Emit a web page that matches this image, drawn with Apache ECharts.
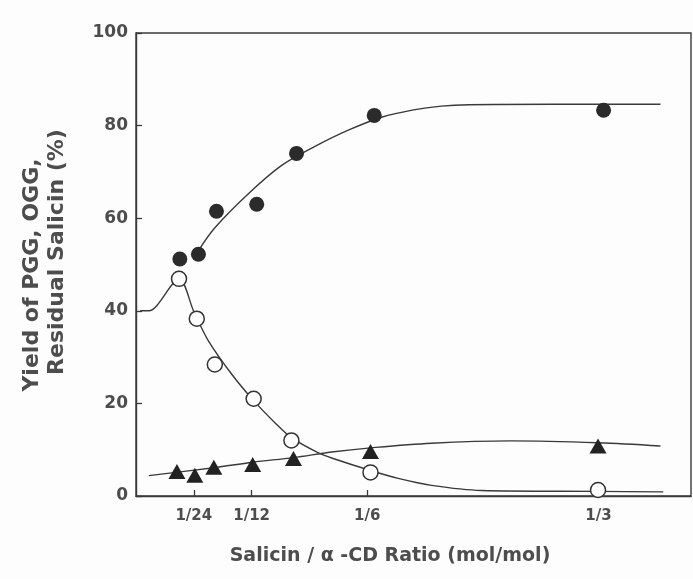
<!DOCTYPE html>
<html>
<head>
<meta charset="utf-8">
<script src="https://cdn.jsdelivr.net/npm/echarts@6/dist/echarts.min.js"></script>
<style>
  html, body { margin: 0; padding: 0; background: #fdfdfd; }
  #chart { width: 693px; height: 579px; }
</style>
</head>
<body>
<div id="chart"></div>
<script>
// ---- data ----
// x tick positions and labels (Salicin / alpha-CD ratio)
const xTickValues = [1/24, 1/12, 1/6, 1/3];
const xTickLabels = ['1/24', '1/12', '1/6', '1/3'];
const yTickValues = [0, 20, 40, 60, 80, 100];

// filled circles
const filledX = [0.0316, 0.045, 0.058, 0.087, 0.1157, 0.1717, 0.337];
const filledY = [51.2, 52.2, 61.5, 63.0, 74.0, 82.2, 83.3];
// open circles
const openX = [0.031, 0.0438, 0.0568, 0.0848, 0.112, 0.169, 0.333];
const openY = [46.9, 38.3, 28.4, 21.0, 12.0, 5.1, 1.3];
// filled triangles
const triX = [0.0295, 0.0424, 0.0561, 0.0841, 0.1135, 0.169, 0.333];
const triY = [5.3, 4.5, 6.2, 6.8, 8.1, 9.6, 10.8];

// hand-drawn fitted curves
const curveFilledX = [0.045, 0.057, 0.081, 0.105, 0.129, 0.153, 0.177, 0.2, 0.22, 0.24, 0.3, 0.378];
const curveFilledY = [53.0, 58.0, 65.3, 71.4, 75.5, 79.0, 81.8, 83.4, 84.2, 84.5, 84.6, 84.6];
const curveOpenX = [0.003, 0.0093, 0.031, 0.0417, 0.0524, 0.069, 0.0848, 0.0999, 0.112, 0.1315, 0.141, 0.169, 0.189, 0.213, 0.249, 0.333, 0.38];
const curveOpenY = [40.0, 40.0, 46.9, 39.8, 33.4, 26.3, 20.6, 15.9, 12.6, 9.3, 8.2, 5.5, 3.8, 2.3, 1.2, 1.0, 0.9];
const curveTriX = [0.0093, 0.0561, 0.084, 0.1135, 0.141, 0.169, 0.213, 0.27, 0.333, 0.378];
const curveTriY = [4.4, 6.1, 7.3, 8.3, 9.5, 10.4, 11.4, 11.9, 11.5, 10.8];

const xTitle = 'Salicin / \u03b1 -CD Ratio (mol/mol)';
const yTitleLine1 = 'Yield of PGG, OGG,';
const yTitleLine2 = 'Residual Salicin (%)';

// ---- chart ----
const zip = (xs, ys) => xs.map((x, i) => [x, ys[i]]);
const ink = '#3a3a3a';
const textColor = '#4d4d4d';
const font = '"DejaVu Sans", Verdana, sans-serif';

const chart = echarts.init(document.getElementById('chart'), null, { renderer: 'canvas' });
chart.setOption({
  backgroundColor: '#fdfdfd',
  animation: false,
  grid: {
    left: 136, right: 2, top: 33, bottom: 83,
    show: true, borderColor: ink, borderWidth: 1.4, backgroundColor: 'transparent'
  },
  xAxis: {
    type: 'value', min: 0, max: 0.4,
    axisLine: { show: true, lineStyle: { color: ink, width: 1.4 } },
    axisTick: { show: true, inside: true, length: 6, customValues: xTickValues, lineStyle: { color: ink, width: 1.3 } },
    axisLabel: {
      show: true, customValues: xTickValues, margin: 13,
      color: textColor, fontFamily: font, fontWeight: 'bold', fontSize: 15,
      formatter: function (v) {
        let best = 0, d = Infinity;
        xTickValues.forEach(function (t, i) { const e = Math.abs(t - v); if (e < d) { d = e; best = i; } });
        return xTickLabels[best];
      }
    },
    splitLine: { show: false }
  },
  yAxis: {
    type: 'value', min: 0, max: 100, interval: 20,
    axisLine: { show: true, lineStyle: { color: ink, width: 1.4 } },
    axisTick: { show: true, inside: true, length: 6, lineStyle: { color: ink, width: 1.3 } },
    axisLabel: { show: true, margin: 8, color: textColor, fontFamily: font, fontWeight: 'bold', fontSize: 17 },
    splitLine: { show: false }
  },
  graphic: [
    {
      type: 'text', x: 390, y: 556,
      style: { text: xTitle, fill: textColor, font: 'bold 19px ' + font, align: 'center', verticalAlign: 'middle' }
    },
    {
      type: 'text', x: 32, y: 275, rotation: Math.PI / 2,
      style: { text: yTitleLine1, fill: textColor, font: 'bold 22px ' + font, align: 'center', verticalAlign: 'middle' }
    },
    {
      type: 'text', x: 57, y: 252, rotation: Math.PI / 2,
      style: { text: yTitleLine2, fill: textColor, font: 'bold 22px ' + font, align: 'center', verticalAlign: 'middle' }
    }
  ],
  series: [
    {
      name: 'fit filled', type: 'line', data: zip(curveFilledX, curveFilledY), smooth: 0.35,
      showSymbol: false, symbol: 'none', lineStyle: { color: ink, width: 1.4 }, z: 2
    },
    {
      name: 'fit open', type: 'line', data: zip(curveOpenX, curveOpenY), smooth: 0.3,
      showSymbol: false, symbol: 'none', lineStyle: { color: ink, width: 1.4 }, z: 2
    },
    {
      name: 'fit triangle', type: 'line', data: zip(curveTriX, curveTriY), smooth: 0.35,
      showSymbol: false, symbol: 'none', lineStyle: { color: ink, width: 1.4 }, z: 2
    },
    {
      name: 'PGG', type: 'scatter', data: zip(filledX, filledY), symbol: 'circle', symbolSize: 15,
      itemStyle: { color: '#2b2b2b', opacity: 1 }, z: 5
    },
    {
      name: 'Residual Salicin', type: 'scatter', data: zip(openX, openY), symbol: 'circle', symbolSize: 15,
      itemStyle: { color: '#ffffff', borderColor: '#333', borderWidth: 1.5, opacity: 1 }, z: 5
    },
    {
      name: 'OGG', type: 'scatter', data: zip(triX, triY), symbol: 'triangle', symbolSize: [17, 15],
      itemStyle: { color: '#222', opacity: 1 }, z: 5
    }
  ]
});
</script>
</body>
</html>
